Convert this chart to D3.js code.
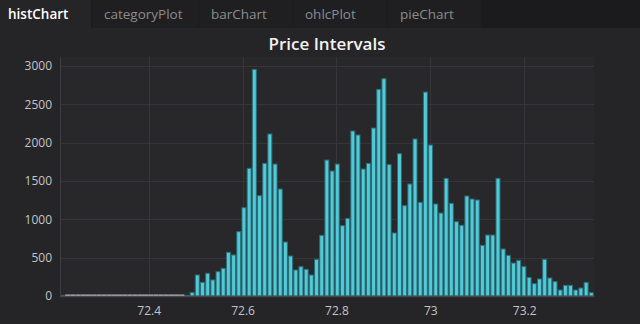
<!DOCTYPE html>
<html>
<head>
<meta charset="utf-8">
<script src="https://cdn.jsdelivr.net/npm/d3@7"></script>
<style>
  html, body { margin: 0; padding: 0; background: #262528; }
  svg { display: block; }
</style>
</head>
<body>
<svg id="chart" width="640" height="324"></svg>
<script>
// ---- data ----
const tabs = ["histChart", "categoryPlot", "barChart", "ohlcPlot", "pieChart"];
const title = "Price Intervals";
const binStart = 72.2111;
const binWidth = 0.011045;
const counts = [
  8, 0, 0, 0, 0, 0, 0, 0, 0, 0, 0, 0, 0, 0, 0, 0, 0, 0, 0, 0, 0, 0, 0, 0, 8,
  45, 274, 178, 296, 209, 317, 361, 570, 535, 839, 1152, 1665, 2956, 1308, 1730,
  2113, 1721, 1395, 704, 522, 339, 383, 348, 274, 478, 791, 1773, 1630, 1721, 917,
  1013, 2152, 2100, 1656, 1730, 2191, 2695, 2834, 1713, 822, 1856, 1178, 1461, 2048, 1222,
  2660, 1969, 1200, 1082, 1535, 1209, 969, 922, 1304, 1265, 1252, 661, 795, 795, 1535,
  613, 530, 430, 465, 383, 243, 161, 222, 478, 235, 187, 78, 139, 139, 78,
  104, 178, 43
];
const yTicks = [0, 500, 1000, 1500, 2000, 2500, 3000];
const xTicks = [72.4, 72.6, 72.8, 73, 73.2];
const xTickLabels = ["72.4", "72.6", "72.8", "73", "73.2"];

// ---- layout ----
const svg = d3.select("#chart");
const W = 640, H = 324;
const tabH = 28;
const plot = { left: 60, right: 594, top: 57, bottom: 296 };
const font = "'Open Sans', 'Noto Sans', sans-serif";

svg.append("rect").attr("width", W).attr("height", H).attr("fill", "#252427");

// tab bar
svg.append("rect").attr("width", W).attr("height", tabH).attr("fill", "#1b1b1d");
const tabX = [0, 92, 199, 294, 388];
const tabR = [91, 198, 293, 387, 481];
const tabTextX = [8, 104, 211, 305, 400];
tabs.forEach((t, i) => {
  svg.append("rect")
    .attr("x", tabX[i]).attr("y", 0)
    .attr("width", tabR[i] - tabX[i]).attr("height", tabH)
    .attr("fill", i === 0 ? "#252427" : "#1f1f21");
  svg.append("text")
    .attr("x", tabTextX[i]).attr("y", 19)
    .attr("font-family", font).attr("font-size", 13.5)
    .attr("font-weight", i === 0 ? 600 : 400)
    .attr("fill", i === 0 ? "#ffffff" : "#8c8c8e")
    .text(t);
});

// plot background
svg.append("rect")
  .attr("x", plot.left).attr("y", plot.top)
  .attr("width", plot.right - plot.left).attr("height", plot.bottom - plot.top)
  .attr("fill", "#28272a");

const x = d3.scaleLinear()
  .domain([binStart, binStart + counts.length * binWidth])
  .range([plot.left, plot.right]);
const y = d3.scaleLinear()
  .domain([0, 3000 * (plot.bottom - plot.top) / 230])
  .range([plot.bottom, plot.top]);

// title
svg.append("text")
  .attr("x", (plot.left + plot.right) / 2).attr("y", 50)
  .attr("text-anchor", "middle")
  .attr("font-family", font).attr("font-size", 17).attr("font-weight", 600)
  .attr("fill", "#f2f2f2")
  .text(title);

// grid
const grid = svg.append("g");
grid.selectAll("line.h").data(yTicks.slice(1)).enter().append("line")
  .attr("x1", plot.left).attr("x2", plot.right)
  .attr("y1", d => Math.round(y(d)) + 0.5).attr("y2", d => Math.round(y(d)) + 0.5)
  .attr("stroke", "#363539").attr("stroke-width", 1);
grid.selectAll("line.v").data(xTicks).enter().append("line")
  .attr("x1", d => Math.round(x(d)) + 0.5).attr("x2", d => Math.round(x(d)) + 0.5)
  .attr("y1", plot.top).attr("y2", plot.bottom)
  .attr("stroke", "#363539").attr("stroke-width", 1);

// bars
const bins = counts.map((c, i) => ({ x0: binStart + i * binWidth, x1: binStart + (i + 1) * binWidth, c }));
svg.append("g").selectAll("rect").data(bins.filter(b => b.c > 0)).enter().append("rect")
  .attr("x", d => x(d.x0) + 0.5)
  .attr("width", d => x(d.x1) - x(d.x0) - 1.2)
  .attr("y", d => y(d.c))
  .attr("height", d => y(0) - y(d.c))
  .attr("fill", "#4fcad8")
  .attr("stroke", "#2f6b74")
  .attr("stroke-width", 1);
// zero-count bins marker
svg.append("g").selectAll("rect").data(bins.filter(b => b.c === 0)).enter().append("rect")
  .attr("x", d => x(d.x0))
  .attr("width", d => x(d.x1) - x(d.x0))
  .attr("y", y(0) - 1.5)
  .attr("height", 1.5)
  .attr("fill", "#b4b4b4");

// axes
const yAxis = svg.append("g")
  .attr("transform", `translate(${plot.left},0)`)
  .call(d3.axisLeft(y).tickValues(yTicks).tickFormat(d3.format("d")).tickSize(0).tickPadding(8));
yAxis.select(".domain").attr("stroke", "#3e3d41");
yAxis.selectAll("text").attr("font-family", font).attr("font-size", 12).attr("fill", "#c4c4c6");

const xAxis = svg.append("g")
  .attr("transform", `translate(0,${plot.bottom})`)
  .call(d3.axisBottom(x).tickValues(xTicks).tickFormat((d, i) => xTickLabels[i]).tickSize(0).tickPadding(10));
xAxis.select(".domain").attr("stroke", "#47464a").attr("stroke-width", 1.5);
xAxis.selectAll("text").attr("font-family", font).attr("font-size", 12).attr("fill", "#c4c4c6");
</script>
</body>
</html>
